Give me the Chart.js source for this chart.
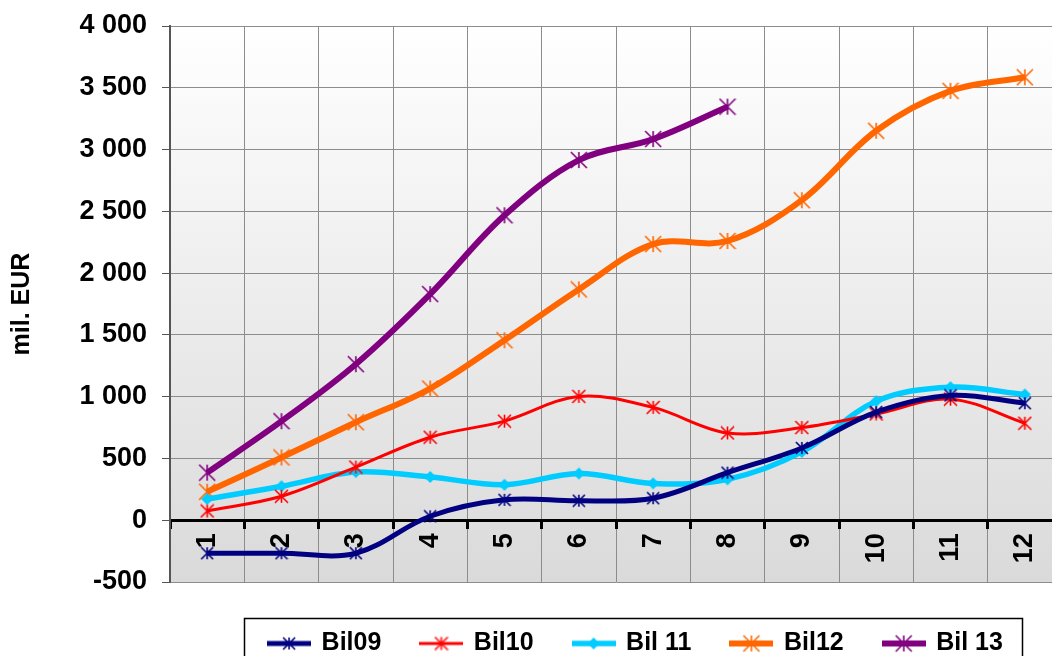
<!DOCTYPE html>
<html>
<head>
<meta charset="utf-8">
<script src="https://cdn.jsdelivr.net/npm/chart.js@4/dist/chart.umd.min.js"></script>
<style>
  html, body { margin: 0; padding: 0; background: #fff; overflow: hidden; }
  #wrap { width: 1052px; height: 656px; overflow: hidden; }
</style>
</head>
<body>
<!-- el grafico original sale cortado a la derecha: canvas un poco mas ancho que la ventana -->
<div id="wrap"><canvas id="myChart" width="1062" height="656"></canvas></div>
<script>
// data
let meses = ['1', '2', '3', '4', '5', '6', '7', '8', '9', '10', '11', '12'];
let bil09 = [-267, -267, -267, 32, 165, 158, 178, 385, 585, 875, 1010, 947];
let bil10 = [75, 194, 430, 672, 802, 1002, 913, 706, 750, 860, 980, 785];
let bil11 = [172, 275, 390, 350, 287, 378, 298, 331, 553, 963, 1077, 1018];
let bil12 = [230, 508, 793, 1066, 1457, 1868, 2235, 2260, 2590, 3152, 3475, 3585];
let bil13 = [385, 802, 1263, 1830, 2468, 2915, 3085, 3347, null, null, null, null];
let etiquetas = ['Bil09', 'Bil10', 'Bil 11', 'Bil12', 'Bil 13'];
let ejeMin = -500, ejeMax = 4000, paso = 500;

let fuente = "'Liberation Sans', Arial, sans-serif";

// asterisco tipo excel (vertical + X)
let marcaEstrella = (size, color, lw) => {
    let c = document.createElement('canvas');
    c.width = size + 2;
    c.height = size + 2;
    let ctx = c.getContext('2d');
    let m = c.width / 2, r = size / 2;
    ctx.strokeStyle = color;
    ctx.lineWidth = lw;
    ctx.beginPath();
    ctx.moveTo(m, m - r); ctx.lineTo(m, m + r);
    ctx.moveTo(m - r, m - r); ctx.lineTo(m + r, m + r);
    ctx.moveTo(m + r, m - r); ctx.lineTo(m - r, m + r);
    ctx.stroke();
    return c;
};

let marcaRombo = (size, color) => {
    let c = document.createElement('canvas');
    c.width = size + 2;
    c.height = size + 2;
    let ctx = c.getContext('2d');
    let m = c.width / 2, r = size / 2;
    ctx.fillStyle = color;
    ctx.beginPath();
    ctx.moveTo(m, m - r); ctx.lineTo(m + r, m); ctx.lineTo(m, m + r); ctx.lineTo(m - r, m);
    ctx.closePath();
    ctx.fill();
    return c;
};

// linea + marca para la leyenda
let muestraLeyenda = (color, lw, marca) => {
    let c = document.createElement('canvas');
    c.width = 44;
    c.height = 20;
    let ctx = c.getContext('2d');
    ctx.strokeStyle = color;
    ctx.lineWidth = lw;
    ctx.beginPath();
    ctx.moveTo(0, 10); ctx.lineTo(44, 10);
    ctx.stroke();
    ctx.drawImage(marca, 22 - marca.width / 2, 10 - marca.height / 2);
    return c;
};

let series = [
    { label: etiquetas[0], data: bil09, color: '#000080', lw: 5, marca: marcaEstrella(12, '#000080', 1.6) },
    { label: etiquetas[1], data: bil10, color: '#ff0000', lw: 3, marca: marcaEstrella(13, '#ff0000', 1.6) },
    { label: etiquetas[2], data: bil11, color: '#00ccff', lw: 5.5, marca: marcaRombo(12, '#00ccff') },
    { label: etiquetas[3], data: bil12, color: '#ff6600', lw: 6, marca: marcaEstrella(16, '#ff6600', 1.6) },
    { label: etiquetas[4], data: bil13, color: '#800080', lw: 6, marca: marcaEstrella(16, '#800080', 1.6) }
];

let datasets = series.map(s => ({
    label: s.label,
    data: s.data,
    borderColor: s.color,
    backgroundColor: s.color,
    borderWidth: s.lw,
    tension: 0.35,
    pointStyle: s.marca,
    pointRadius: 6,
    fill: false,
    muestra: muestraLeyenda(s.color, s.lw, s.marca)
}));

let fondoPlugin = {
    id: 'fondo',
    beforeDraw(chart) {
        let a = chart.chartArea;
        let ctx = chart.ctx;
        let g = ctx.createLinearGradient(0, a.top, 0, a.bottom);
        g.addColorStop(0, '#ffffff');
        g.addColorStop(1, '#dadada');
        ctx.save();
        ctx.fillStyle = g;
        ctx.fillRect(a.left, a.top, a.right - a.left, a.bottom - a.top);
        ctx.restore();
    }
};

// la leyenda va corrida a la derecha y un poco abajo, con marco
let leyendaPlugin = {
    id: 'marcoLeyenda',
    afterLayout(chart) {
        let l = chart.legend;
        l.left += 105; l.right += 105;
        l.top += 9; l.bottom += 9;
    },
    afterDraw(chart) {
        let hb = chart.legend.legendHitBoxes;
        if (!hb || !hb.length) return;
        let ctx = chart.ctx;
        let ult = hb[hb.length - 1];
        let x0 = Math.round(hb[0].left - 25) + 0.5;
        let x1 = Math.round(ult.left + ult.width + 19) + 0.5;
        let y0 = Math.round(hb[0].top - 13) + 0.5;
        ctx.save();
        ctx.strokeStyle = '#000';
        ctx.lineWidth = 1.5;
        ctx.strokeRect(x0, y0, x1 - x0, 100);
        ctx.restore();
    }
};

let fmt = v => String(v).replace(/\B(?=(\d{3})+(?!\d))/g, ' ');

new Chart('myChart', {
    type: 'line',
    data: { labels: meses, datasets: datasets },
    options: {
        responsive: false,
        animation: false,
        devicePixelRatio: 1,
        layout: { autoPadding: false, padding: { top: 26, right: 0, bottom: -1, left: 0 } },
        font: { family: fuente },
        plugins: {
            tooltip: { enabled: false },
            legend: {
                position: 'bottom',
                labels: {
                    usePointStyle: true,
                    pointStyleWidth: 40,
                    padding: 40,
                    color: '#000',
                    font: { family: fuente, size: 25, weight: 'bold' },
                    generateLabels(chart) {
                        return chart.data.datasets.map((d, i) => ({
                            text: d.label,
                            pointStyle: d.muestra,
                            fillStyle: d.borderColor,
                            strokeStyle: d.borderColor,
                            lineWidth: 0,
                            hidden: false,
                            datasetIndex: i,
                            fontColor: '#000'
                        }));
                    }
                }
            }
        },
        scales: {
            x: {
                position: { y: 0 },
                offset: true,
                afterFit(scale) { scale.paddingLeft = 0; scale.paddingRight = 0; },
                grid: {
                    offset: true,
                    color: '#8c8c8c',
                    lineWidth: 1,
                    tickColor: '#000',
                    tickWidth: 3,
                    tickLength: 7
                },
                border: { color: '#000', width: 3 },
                ticks: {
                    autoSkip: false,
                    minRotation: 90,
                    maxRotation: 90,
                    padding: 6,
                    color: '#000',
                    font: { family: fuente, size: 27, weight: 'bold' }
                }
            },
            y: {
                min: ejeMin,
                max: ejeMax,
                afterFit(scale) {
                    scale.width = 170;
                    scale.paddingTop = 0;
                    scale.paddingBottom = 0;
                },
                grid: {
                    color: '#8c8c8c',
                    lineWidth: 1,
                    tickColor: '#555',
                    tickLength: 8
                },
                border: { color: '#555', width: 2 },
                ticks: {
                    stepSize: paso,
                    padding: 15,
                    color: '#000',
                    font: { family: fuente, size: 27, weight: 'bold' },
                    callback: v => fmt(v)
                },
                title: {
                    display: true,
                    text: 'mil. EUR',
                    color: '#000',
                    padding: { top: 7, bottom: 0 },
                    font: { family: fuente, size: 25, weight: 'bold' }
                }
            }
        }
    },
    plugins: [fondoPlugin, leyendaPlugin]
});
</script>
</body>
</html>
